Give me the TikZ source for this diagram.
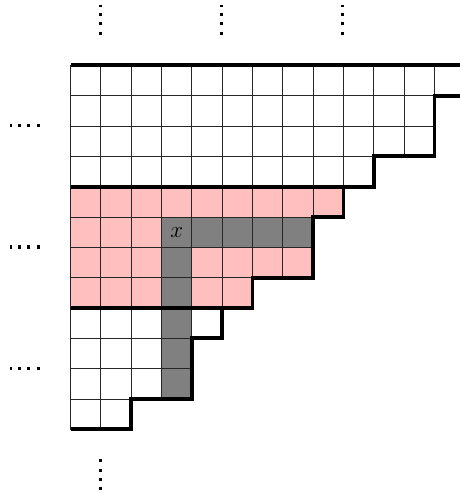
\documentclass[tikz,border=0pt]{standalone}
\begin{document}
\begin{tikzpicture}[x=0.75pt,y=-0.75pt,
  gridline/.style={line width=0.65pt,draw=black!85},
  boundary/.style={line width=2.9pt,line join=miter},
  dotline/.style={line width=2.3pt,dash pattern=on 2.3pt off 4.7pt}]
\useasboundingbox (0,0) rectangle (460,493);
\begin{scope}
\clip (0,0) rectangle (460,493);
\begin{scope}[shift={(70.5,65.3)},x=22.75pt,y=-22.75pt]
  % fills
  \fill[pink] (0,4) -- (9,4) -- (9,5) -- (8,5) -- (8,7) -- (6,7) -- (6,8) -- (0,8) -- cycle;
  \fill[gray] (3,5) rectangle (8,6);
  \fill[gray] (3,6) rectangle (4,11);
  % grid
  \foreach \j/\n in {0/13,1/12,2/12,3/10,4/9,5/8,6/8,7/6,8/5,9/4,10/4,11/2} {
    \foreach \i in {1,...,\n} \draw[gridline] (\i-1,\j) rectangle (\i,\j+1);
  }
  % thick boundary
  \draw[boundary] (0,0) -- (13.5,0);
  \draw[boundary] (13.5,1) -- (12,1) -- (12,3) -- (10,3) -- (10,4) -- (9,4) -- (9,5) -- (8,5) -- (8,7) -- (6,7) -- (6,8) -- (5,8) -- (5,9) -- (4,9) -- (4,11) -- (2,11) -- (2,12) -- (0,12);
  \draw[boundary] (0,4) -- (9,4);
  \draw[boundary] (0,8) -- (6,8);
  \node[inner sep=0pt] (xlab) at (3.5,5.5) {\fontsize{18.5}{20}\selectfont $x$};
\end{scope}
% dots
\draw[dotline] (100.7,34.8) -- (100.7,4.6);
\draw[dotline] (221.7,34.8) -- (221.7,4.6);
\draw[dotline] (342.7,34.8) -- (342.7,4.6);
\draw[dotline] (39.8,125.5) -- (9.6,125.5);
\draw[dotline] (39.8,247) -- (9.6,247);
\draw[dotline] (39.8,368.3) -- (9.6,368.3);
\draw[dotline] (100.7,459.4) -- (100.7,489.6);
\end{scope}
\end{tikzpicture}
\end{document}
